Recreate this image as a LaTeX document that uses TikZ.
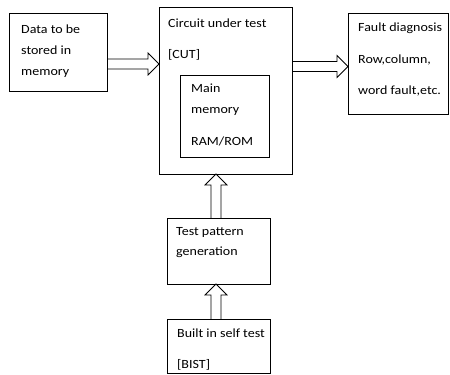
\documentclass[tikz,border=0pt]{standalone}
\usepackage{fontspec}
\setmainfont{Carlito}[FakeStretch=1.12]
\usetikzlibrary{calc}
\newcommand\hollowarrow[2]{%
  \coordinate (hb) at ($(#2)!11pt!(#1)$);
  \draw[arr] ($(#1)!5pt!90:(#2)$) -- ($(hb)!5pt!90:(#2)$) -- ($(hb)!11pt!90:(#2)$)
    -- (#2) -- ($(hb)!11pt!-90:(#2)$) -- ($(hb)!5pt!-90:(#2)$) -- ($(#1)!5pt!-90:(#2)$);
}
\begin{document}
\begin{tikzpicture}[x=1pt,y=-1pt,
  box/.style={draw=black, line width=0.8pt, rectangle, anchor=north west, inner sep=0pt, outer sep=0pt},
  lbl/.style={anchor=base west, inner sep=0pt, text=black, font=\fontsize{12.5}{15}\selectfont},
  arr/.style={draw=black, line width=0.8pt, line join=miter}]
\useasboundingbox[fill=white] (0,0) rectangle (450,375);

% boxes
\node[box, minimum width=98pt, minimum height=78pt] (data) at (9,13) {};
\node[box, minimum width=133pt, minimum height=167pt] (cut) at (159,7) {};
\node[box, minimum width=89pt, minimum height=82pt] (mem) at (180,75) {};
\node[box, minimum width=100pt, minimum height=101pt] (fault) at (348,13) {};
\node[box, minimum width=103pt, minimum height=66pt] (test) at (167,218) {};
\node[box, minimum width=103pt, minimum height=54pt] (bist) at (167,319) {};

% texts
\node[lbl] (d1) at (21,33) {Data to be};
\node[lbl] (d2) at (21,54) {stored in};
\node[lbl] (d3) at (21,75) {memory};
\node[lbl] (c1) at (168,27) {Circuit under test};
\node[lbl] (c2) at (168,58) {[CUT]};
\node[lbl] (m1) at (191,92) {Main};
\node[lbl] (m2) at (191,113) {memory};
\node[lbl] (m3) at (191,145) {RAM/ROM};
\node[lbl] (f1) at (358,31) {Fault diagnosis};
\node[lbl] (f2) at (358,63) {Row,column,};
\node[lbl] (f3) at (358,94) {word fault,etc.};
\node[lbl] (p1) at (176,235) {Test pattern};
\node[lbl] (p2) at (176,255) {generation};
\node[lbl] (b1) at (177,337) {Built in self test};
\node[lbl] (b2) at (177,368) {[BIST]};

% helper coordinates for arrow lines
\coordinate (h1) at (0,64);
\coordinate (h2) at (0,66.5);
\coordinate (v1) at (216,0);
\coordinate (a1s) at (data.east |- h1);
\coordinate (a1e) at (cut.west |- h1);
\coordinate (a2s) at (cut.east |- h2);
\coordinate (a2e) at (fault.west |- h2);
\coordinate (a3s) at (test.north -| v1);
\coordinate (a3e) at (cut.south -| v1);
\coordinate (a4s) at (bist.north -| v1);
\coordinate (a4e) at (test.south -| v1);

\hollowarrow{a1s}{a1e}
\hollowarrow{a2s}{a2e}
\hollowarrow{a3s}{a3e}
\hollowarrow{a4s}{a4e}
\end{tikzpicture}
\end{document}
